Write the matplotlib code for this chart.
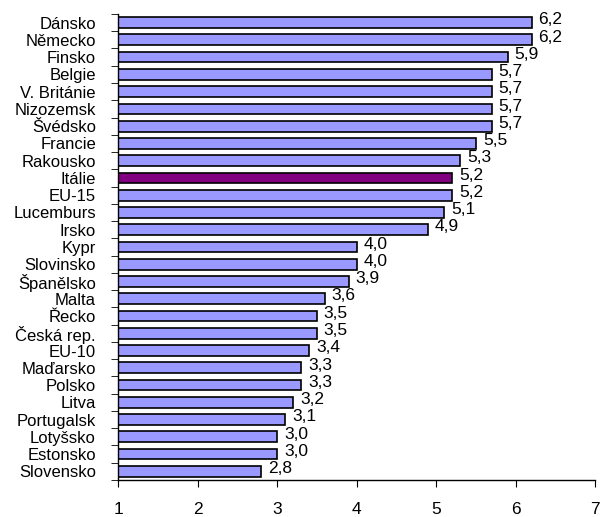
import matplotlib
matplotlib.use("Agg")
import matplotlib.pyplot as plt
import numpy as np

plt.rcParams["font.family"] = ["Liberation Sans", "DejaVu Sans"]

# countries, top to bottom
countries = [
    "Dánsko", "Německo", "Finsko", "Belgie", "V. Británie", "Nizozemsk",
    "Švédsko", "Francie", "Rakousko", "Itálie", "EU-15", "Lucemburs",
    "Irsko", "Kypr", "Slovinsko", "Španělsko", "Malta", "Řecko",
    "Česká rep.", "EU-10", "Maďarsko", "Polsko", "Litva", "Portugalsk",
    "Lotyšsko", "Estonsko", "Slovensko",
]
values = [
    6.2, 6.2, 5.9, 5.7, 5.7, 5.7,
    5.7, 5.5, 5.3, 5.2, 5.2, 5.1,
    4.9, 4.0, 4.0, 3.9, 3.6, 3.5,
    3.5, 3.4, 3.3, 3.3, 3.2, 3.1,
    3.0, 3.0, 2.8,
]
highlight = "Itálie"
x_ticks = [1, 2, 3, 4, 5, 6, 7]

BASE = "#9999FF"
HIGH = "#800080"

fig = plt.figure(figsize=(6.06, 5.17), dpi=100)
ax = fig.add_axes([0.195, 0.0716, 0.787, 0.9014])

n = len(countries)
y = np.arange(n)[::-1]
colors = [HIGH if c == highlight else BASE for c in countries]
widths = [v - 1 for v in values]
ax.barh(y, widths, left=1, height=0.62, color=colors, edgecolor="black",
        linewidth=1.2)

for yi, v in zip(y, values):
    ax.annotate(f"{v:.1f}".replace(".", ","), (v, yi), xytext=(5, 2),
                textcoords="offset points", va="center", ha="left",
                fontsize=12.5)

ax.set_xlim(1, 7)
ax.set_ylim(-0.5, n - 0.5)
ax.set_xticks(x_ticks)
ax.set_xticklabels([str(t) for t in x_ticks], fontsize=12.5)
ax.tick_params(axis="x", direction="out", length=5, pad=11)

# labels at bar centres, tick marks at category boundaries
ax.set_yticks(y)
ax.set_yticklabels(countries, fontsize=12)
ax.tick_params(axis="y", which="major", length=0, pad=16)
ax.set_yticks(np.arange(-0.5, n, 1.0), minor=True)
ax.tick_params(axis="y", which="minor", direction="out", length=5)

for s in ("top", "right"):
    ax.spines[s].set_visible(False)
for s in ("left", "bottom"):
    ax.spines[s].set_linewidth(1.0)

fig.savefig("out.png", dpi=100)
